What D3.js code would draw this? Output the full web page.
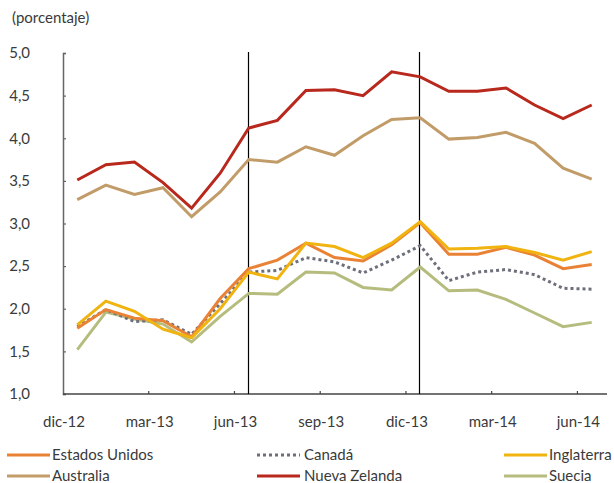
<!DOCTYPE html>
<html>
<head>
<meta charset="utf-8">
<script src="https://cdn.jsdelivr.net/npm/d3@7"></script>
<style>
  body { margin: 0; background: #fff; }
  text { font-family: Lato, "Open Sans", sans-serif; fill: #3a3a3a; }
</style>
</head>
<body>
<div id="chart"></div>
<script>
// months dic-12 .. jun-14
var months = ["dic-12","ene-13","feb-13","mar-13","abr-13","may-13","jun-13","jul-13","ago-13","sep-13",
              "oct-13","nov-13","dic-13","ene-14","feb-14","mar-14","abr-14","may-14","jun-14"];
var tickLabels = ["dic-12","mar-13","jun-13","sep-13","dic-13","mar-14","jun-14"];
var yTicks = [1.0, 1.5, 2.0, 2.5, 3.0, 3.5, 4.0, 4.5, 5.0];
var markerMonths = ["jun-13", "dic-13"];

var estadosUnidos = [1.77,1.99,1.89,1.86,1.67,2.12,2.47,2.57,2.77,2.60,2.56,2.75,3.01,2.64,2.64,2.72,2.63,2.47,2.52];
var canada        = [1.79,1.99,1.85,1.87,1.70,2.06,2.43,2.45,2.60,2.55,2.42,2.57,2.74,2.33,2.43,2.46,2.40,2.24,2.23];
var inglaterra    = [1.81,2.09,1.97,1.76,1.66,2.00,2.43,2.35,2.77,2.73,2.60,2.77,3.02,2.70,2.71,2.73,2.66,2.57,2.67];
var australia     = [3.28,3.45,3.34,3.42,3.08,3.37,3.75,3.72,3.90,3.80,4.03,4.22,4.24,3.99,4.01,4.07,3.94,3.65,3.52];
var nuevaZelanda  = [3.51,3.69,3.72,3.48,3.18,3.59,4.12,4.21,4.56,4.57,4.50,4.78,4.72,4.55,4.55,4.59,4.39,4.23,4.39];
var suecia        = [1.52,1.96,1.88,1.82,1.61,1.91,2.18,2.17,2.43,2.42,2.25,2.22,2.49,2.21,2.22,2.11,1.95,1.79,1.84];

var series = [
  { name: "Estados Unidos", values: estadosUnidos, color: "#EA8236", dash: null },
  { name: "Canadá",         values: canada,        color: "#6D6F7B", dash: "3,3" },
  { name: "Inglaterra",     values: inglaterra,    color: "#F0B30F", dash: null },
  { name: "Australia",      values: australia,     color: "#C29C68", dash: null },
  { name: "Nueva Zelanda",  values: nuevaZelanda,  color: "#B8281C", dash: null },
  { name: "Suecia",         values: suecia,        color: "#B6BC7E", dash: null }
];

var W = 614, H = 483;
var plotLeft = 63, plotRight = 606, plotTop = 53, plotBottom = 394;

var svg = d3.select("#chart").append("svg").attr("width", W).attr("height", H);

var x = d3.scaleBand().domain(months).range([plotLeft, plotRight]);
var y = d3.scaleLinear().domain([1, 5]).range([plotBottom, plotTop]);
var cx = function(m) { return x(m) + x.bandwidth() / 2; };

// unit label
svg.append("text").attr("x", 12).attr("y", 23).style("font-size", "15px").text("(porcentaje)");

// y axis
var yAxis = svg.append("g").attr("transform", "translate(" + plotLeft + ",0)")
  .call(d3.axisRight(y).tickValues(yTicks).tickSize(3).tickFormat(""));
yAxis.select(".domain").attr("stroke", "#666").attr("stroke-width", 1.5);
yAxis.selectAll(".tick line").attr("stroke", "#666").attr("stroke-width", 1.2);

svg.selectAll(".ylab").data(yTicks).enter().append("text")
  .attr("class", "ylab")
  .attr("x", 30).attr("y", function(d) { return y(d); })
  .attr("dy", "0.35em").attr("text-anchor", "end")
  .style("font-size", "15px")
  .text(function(d) { return d.toFixed(1).replace(".", ","); });

// x axis: ticks on band boundaries, labels at each quarter
var xAxis = svg.append("g").attr("transform", "translate(0," + plotBottom + ")")
  .call(d3.axisTop(x).tickValues(tickLabels.slice(1)).tickSize(3).tickFormat("").offset(0));
xAxis.selectAll(".tick").attr("transform", function(d) { return "translate(" + x(d) + ",0)"; });
xAxis.select(".domain").attr("stroke", "#444").attr("stroke-width", 1.5).attr("d", "M" + plotLeft + ",0H" + (plotRight + 1));
xAxis.selectAll(".tick line").attr("stroke", "#444").attr("stroke-width", 1.2);

svg.selectAll(".xlab").data(tickLabels).enter().append("text")
  .attr("class", "xlab")
  .attr("x", function(d) { return x(d) + 1; })
  .attr("y", 427).attr("text-anchor", "middle")
  .style("font-size", "15px")
  .text(function(d) { return d; });

// vertical marker lines
svg.selectAll(".marker").data(markerMonths).enter().append("line")
  .attr("x1", function(d) { return Math.round(cx(d)) - 0.5; })
  .attr("x2", function(d) { return Math.round(cx(d)) - 0.5; })
  .attr("y1", plotTop - 1).attr("y2", plotBottom)
  .attr("stroke", "#000").attr("stroke-width", 1.2);

// lines
var line = d3.line()
  .x(function(d, i) { return cx(months[i]); })
  .y(function(d) { return y(d); });

var drawOrder = [3, 4, 5, 1, 0, 2];
drawOrder.forEach(function(k) {
  var s = series[k];
  svg.append("path").datum(s.values)
    .attr("d", line)
    .attr("fill", "none")
    .attr("stroke", s.color)
    .attr("stroke-width", 3)
    .attr("stroke-linejoin", "miter")
    .attr("stroke-dasharray", s.dash);
});

// legend
var legX = [7, 257, 504];
var legY = [455, 476];
var leg = svg.selectAll(".leg").data(series).enter().append("g")
  .attr("transform", function(d, i) { return "translate(" + legX[i % 3] + "," + legY[Math.floor(i / 3)] + ")"; });
leg.append("line")
  .attr("x1", 0).attr("x2", 43).attr("y1", 0).attr("y2", 0)
  .attr("stroke", function(d) { return d.color; })
  .attr("stroke-width", 3)
  .attr("stroke-dasharray", function(d) { return d.dash; });
leg.append("text")
  .attr("x", function(d, i) { return i % 3 === 1 ? 47 : 45; })
  .attr("y", 0).attr("dy", "0.35em")
  .style("font-size", "15px")
  .text(function(d) { return d.name; });
</script>
</body>
</html>
